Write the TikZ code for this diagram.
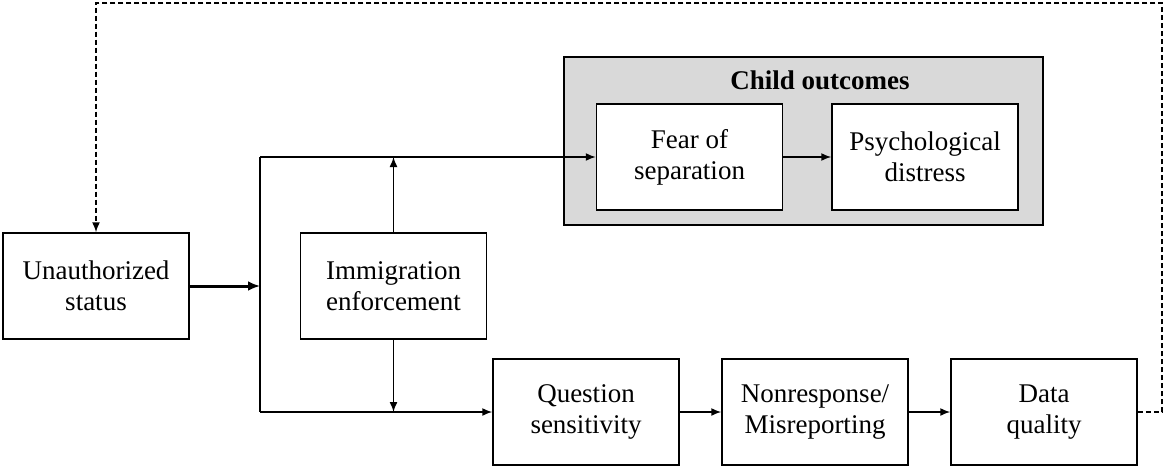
\documentclass[tikz,border=0pt]{standalone}
\usepackage{fontspec}
\setmainfont{Liberation Serif}
\usetikzlibrary{arrows.meta}
\begin{document}
\begin{tikzpicture}[x=1pt,y=-1pt,
  box/.style={draw, line width=1.5pt, fill=white, minimum width=186pt, minimum height=106pt,
    inner sep=0pt, align=center, font=\fontsize{27}{31}\selectfont},
  conn/.style={line width=1.5pt, -{Latex[length=10pt,width=8pt]}},
  thickconn/.style={line width=3pt, -{Latex[length=12pt,width=10pt]}},
  fb/.style={line width=1.5pt, dash pattern=on 5pt off 3pt, -{Latex[length=10pt,width=8pt]}},
  group/.style={draw, line width=1.5pt, fill=black!15, minimum width=479pt, minimum height=168pt, inner sep=0pt}]
\useasboundingbox (0,0) rectangle (1164,468);
% group
\node[group] (co) at (803.5,141) {};
\node[font=\fontsize{27}{31}\selectfont\bfseries] (cot) at (820,80) {Child outcomes};
% boxes
\node[box] (u) at (96,286) {Unauthorized\\status};
\node[box] (imm) at (393.5,286) {Immigration\\enforcement};
\node[box] (fear) at (689.5,157) {Fear of\\separation};
\node[box] (psy) at (925,157) {Psychological\\distress};
\node[box] (q) at (586,412) {Question\\sensitivity};
\node[box] (n) at (815,412) {Nonresponse/\\Misreporting};
\node[box] (d) at (1044,412) {Data\\quality};
% junction
\coordinate (j) at (260,286);
\coordinate (jt) at (260,157);
\coordinate (jb) at (260,412);
\draw[thickconn] (u.east) -- (j);
\draw[line width=1.5pt] (jt) -- (jb);
\draw[conn] (jt) -- (fear.west);
\draw[conn] (jb) -- (q.west);
\draw[conn] (imm.north) -- (imm.north |- jt);
\draw[conn] (imm.south) -- (imm.south |- jb);
\draw[conn] (fear) -- (psy);
\draw[conn] (q) -- (n);
\draw[conn] (n) -- (d);
% feedback
\coordinate (fr) at (1162,412);
\coordinate (ft) at (1162,3);
\draw[fb] (d.east) -- (fr) -- (ft) -- (u.north |- ft) -- (u.north);
\end{tikzpicture}
\end{document}
